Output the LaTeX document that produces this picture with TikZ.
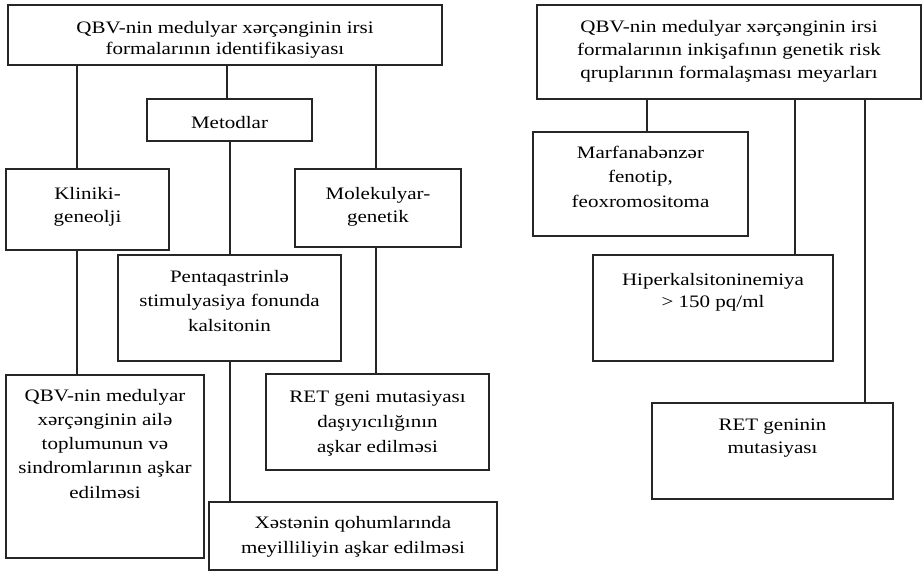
\documentclass[tikz,border=0pt]{standalone}
\usepackage{fontspec}
\setmainfont{Liberation Serif}[FakeStretch=1.2]
\begin{document}
\begin{tikzpicture}[x=1pt,y=-1pt,
  box/.style={draw=black!85, line width=1.2pt, inner sep=0pt, outer sep=0pt, rectangle},
  % text blocks are placed by the baseline of their last line
  txt/.style={anchor=base, align=center, inner sep=0pt, text=black,
    font=\fontsize{17.5}{#1}\selectfont},
  txt/.default=22,
  link/.style={draw=black!85, line width=1.2pt}]
\useasboundingbox (0,0) rectangle (922,571);

% left scheme: identification methods
\node[box, minimum width=434pt, minimum height=60pt] (T1) at (225,35) {};
\node[txt=21] (T1t) at (225,54) {QBV-nin medulyar xərçənginin irsi\\formalarının identifikasiyası};

\node[box, minimum width=165pt, minimum height=42pt] (M) at (229.5,120) {};
\node[txt] (Mt) at (229.5,128) {Metodlar};

\node[box, minimum width=163pt, minimum height=81pt] (K) at (87.5,209.5) {};
\node[txt=23] (Kt) at (87.5,222) {Kliniki-\\geneolji};

\node[box, minimum width=166pt, minimum height=78pt] (Mo) at (378,208) {};
\node[txt=23] (Mot) at (378,222) {Molekulyar-\\genetik};

\node[box, minimum width=223pt, minimum height=106pt] (P) at (229.5,308) {};
\node[txt=24.7] (Pt) at (229.5,331.4) {Pentaqastrinlə\\stimulyasiya fonunda\\kalsitonin};

\node[box, minimum width=198pt, minimum height=183pt] (Q) at (105,466.5) {};
\node[txt=24.3] (Qt) at (105,498.2) {QBV-nin medulyar\\xərçənginin ailə\\toplumunun və\\sindromlarının aşkar\\edilməsi};

\node[box, minimum width=223pt, minimum height=96pt] (R) at (377.5,422) {};
\node[txt=25] (Rt) at (377.5,452) {RET geni mutasiyası\\daşıyıcılığının\\aşkar edilməsi};

\node[box, minimum width=288pt, minimum height=68pt] (X) at (353,536) {};
\node[txt=25] (Xt) at (353,553) {Xəstənin qohumlarında\\meyilliliyin aşkar edilməsi};

% right scheme: risk group criteria
\node[box, minimum width=384pt, minimum height=94pt] (T2) at (729,52) {};
\node[txt=23] (T2t) at (729,78) {QBV-nin medulyar xərçənginin irsi\\formalarının inkişafının genetik risk\\qruplarının formalaşması meyarları};

\node[box, minimum width=215pt, minimum height=104pt] (F) at (640.5,184) {};
\node[txt=24.5] (Ft) at (640.5,207) {Marfanabənzər\\fenotip,\\feoxromositoma};

\node[box, minimum width=240pt, minimum height=106pt] (H) at (713,308) {};
\node[txt=22.5] (Ht) at (713,307.5) {Hiperkalsitoninemiya\\> 150 pq/ml};

\node[box, minimum width=241pt, minimum height=96pt] (G) at (772.5,451) {};
\node[txt=23] (Gt) at (772.5,453) {RET geninin\\mutasiyası};

% connector columns
\coordinate (c1) at (77,0);
\coordinate (c2) at (227,0);
\coordinate (c3) at (230,0);
\coordinate (c4) at (376,0);
\coordinate (c5) at (647,0);
\coordinate (c6) at (795,0);
\coordinate (c7) at (865,0);

\draw[link] (T1.south -| c1) -- (K.north -| c1);
\draw[link] (T1.south -| c2) -- (M.north -| c2);
\draw[link] (T1.south -| c4) -- (Mo.north -| c4);
\draw[link] (M.south -| c3) -- (P.north -| c3);
\draw[link] (K.south -| c1) -- (Q.north -| c1);
\draw[link] (P.south -| c3) -- (X.north -| c3);
\draw[link] (Mo.south -| c4) -- (R.north -| c4);

\draw[link] (T2.south -| c5) -- (F.north -| c5);
\draw[link] (T2.south -| c6) -- (H.north -| c6);
\draw[link] (T2.south -| c7) -- (G.north -| c7);
\end{tikzpicture}
\end{document}
